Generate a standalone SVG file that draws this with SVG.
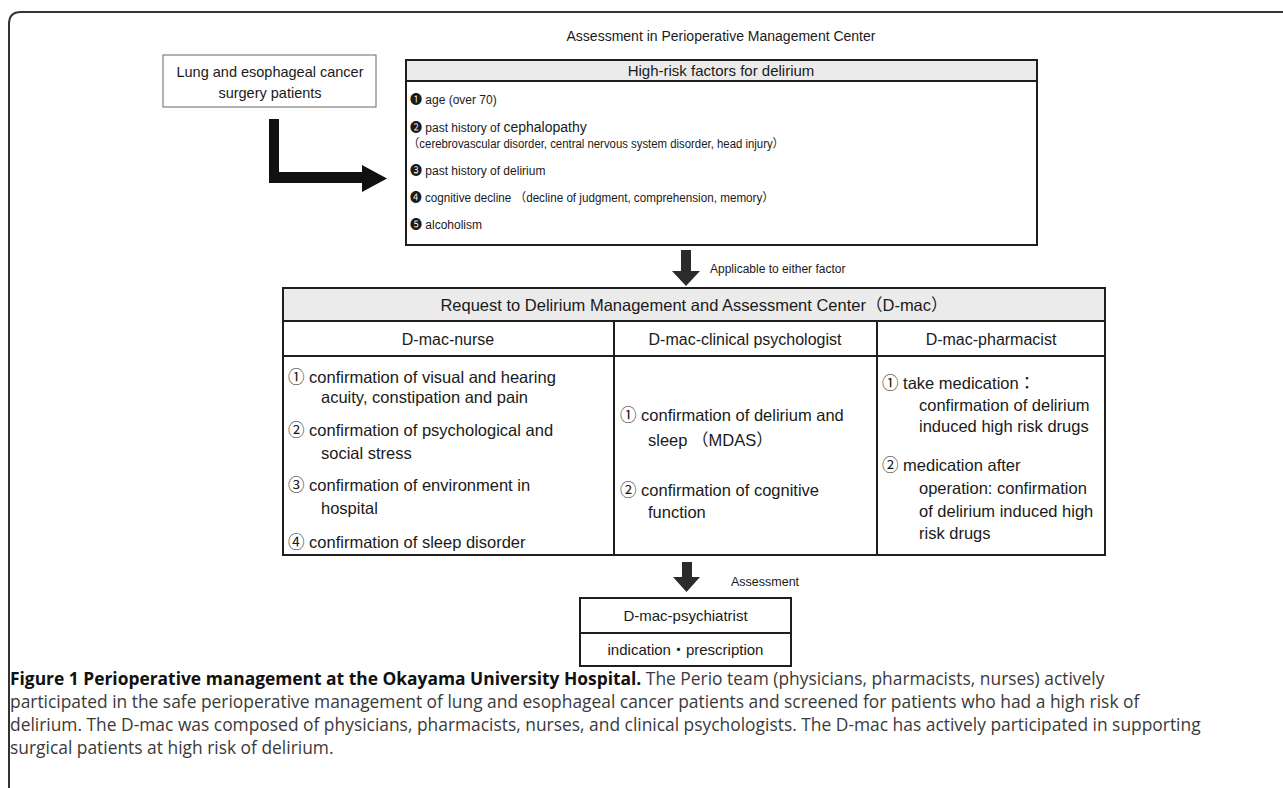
<svg xmlns="http://www.w3.org/2000/svg" width="1283" height="788" viewBox="0 0 1283 788">
<style>
text{font-family:"Liberation Sans","Noto Sans CJK JP","DejaVu Sans",sans-serif;fill:#1a1a1a}
.box{fill:#fff;stroke:#1e1e1e;stroke-width:2}
.thin{fill:#fff;stroke:#666;stroke-width:1}
.hdr{fill:#ebebeb;stroke:none}
.ln{stroke:#1e1e1e;stroke-width:2;fill:none}
.it{font-size:12px}
.tb{font-size:16.5px}
.ch{font-size:16px;text-anchor:middle}
.mid{text-anchor:middle}
.arr{fill:#2b2b2b}
.cap{font-family:"Open Sans","Liberation Sans",sans-serif;font-size:17.4px;fill:#3a3a3a}
.capb{font-weight:bold;fill:#111}
</style>
<path d="M9 800 L9 24 Q9 12 21 12 L1290 12" fill="none" stroke="#333" stroke-width="2"/>

<g id="title">
<text x="721" y="41" class="mid" font-size="14">Assessment in Perioperative Management Center</text>
</g>

<g id="patients">
<rect class="thin" x="163" y="55" width="213" height="52"/>
<text x="270" y="77" class="mid" font-size="14.5">Lung and esophageal cancer</text>
<text x="270" y="98" class="mid" font-size="14.5">surgery patients</text>
</g>

<g id="risk-factors">
<rect class="box" x="406" y="60" width="631" height="185"/>
<rect class="hdr" x="407" y="61" width="629" height="20"/>
<line class="ln" x1="406" y1="81" x2="1037" y2="81"/>
<text x="721" y="76" class="mid" font-size="15">High-risk factors for delirium</text>
<text x="410" y="104" class="it">❶ age (over 70)</text>
<text x="410" y="132" class="it">❷ past history of <tspan font-size="14">cephalopathy</tspan></text>
<text x="408" y="148" class="it" textLength="376" lengthAdjust="spacingAndGlyphs">（cerebrovascular disorder, central nervous system disorder, head injury）</text>
<text x="410" y="175" class="it">❸ past history of delirium</text>
<text x="410" y="202" class="it" textLength="364" lengthAdjust="spacingAndGlyphs">❹ cognitive decline （decline of judgment, comprehension, memory）</text>
<text x="410" y="229" class="it">❺ alcoholism</text>
</g>

<g id="dmac">
<rect class="box" x="283" y="288" width="822" height="267"/>
<rect class="hdr" x="284" y="289" width="820" height="32"/>
<line class="ln" x1="283" y1="321" x2="1105" y2="321"/>
<line class="ln" x1="283" y1="356" x2="1105" y2="356"/>
<line class="ln" x1="614" y1="321" x2="614" y2="555"/>
<line class="ln" x1="877" y1="321" x2="877" y2="555"/>
<text x="694" y="311" class="mid tb">Request to Delirium Management and Assessment Center（D-mac）</text>
<text x="448" y="345" class="ch">D-mac-nurse</text>
<text x="745" y="345" class="ch">D-mac-clinical psychologist</text>
<text x="991" y="345" class="ch">D-mac-pharmacist</text>
</g>

<g id="nurse">
<text x="288" y="383" class="tb">① confirmation of visual and hearing</text>
<text x="321" y="403" class="tb">acuity, constipation and pain</text>
<text x="288" y="436" class="tb">② confirmation of psychological and</text>
<text x="321" y="459" class="tb">social stress</text>
<text x="288" y="491" class="tb">③ confirmation of environment in</text>
<text x="321" y="514" class="tb">hospital</text>
<text x="288" y="548" class="tb">④ confirmation of sleep disorder</text>
</g>

<g id="psychologist">
<text x="620" y="421" class="tb">① confirmation of delirium and</text>
<text x="648" y="446" class="tb">sleep （MDAS）</text>
<text x="620" y="496" class="tb">② confirmation of cognitive</text>
<text x="648" y="518" class="tb">function</text>
</g>

<g id="pharmacist">
<text x="882" y="389" class="tb">① take medication：</text>
<text x="919" y="411" class="tb">confirmation of delirium</text>
<text x="919" y="432" class="tb">induced high risk drugs</text>
<text x="882" y="471" class="tb">② medication after</text>
<text x="919" y="494" class="tb">operation: confirmation</text>
<text x="919" y="517" class="tb">of delirium induced high</text>
<text x="919" y="539" class="tb">risk drugs</text>
</g>

<g id="psychiatrist">
<rect class="box" x="580" y="598" width="211" height="68"/>
<line class="ln" x1="580" y1="633" x2="791" y2="633"/>
<text x="685.5" y="621" class="mid" font-size="15">D-mac-psychiatrist</text>
<text x="685.5" y="655" class="mid" font-size="15">indication・prescription</text>
</g>

<g id="connectors">
<polygon fill="#111" points="269,119 279,119 279,172 362,172 362,165 387,178.5 362,192 362,183 269,183"/>
<polygon class="arr" points="681,250 691,250 691,271 700,271 686,286 672,271 681,271"/>
<text x="710" y="273" font-size="12">Applicable to either factor</text>
<polygon class="arr" points="682,562 692,562 692,577 700,577 686.5,592 673,577 682,577"/>
<text x="731" y="586" font-size="12.5">Assessment</text>
</g>

<g id="caption">
<text class="cap" x="10" y="685"><tspan class="capb">Figure 1 Perioperative management at the Okayama University Hospital.</tspan> The Perio team (physicians, pharmacists, nurses) actively</text>
<text class="cap" x="10" y="708">participated in the safe perioperative management of lung and esophageal cancer patients and screened for patients who had a high risk of</text>
<text class="cap" x="10" y="731">delirium. The D-mac was composed of physicians, pharmacists, nurses, and clinical psychologists. The D-mac has actively participated in supporting</text>
<text class="cap" x="10" y="754">surgical patients at high risk of delirium.</text>
</g>
</svg>
